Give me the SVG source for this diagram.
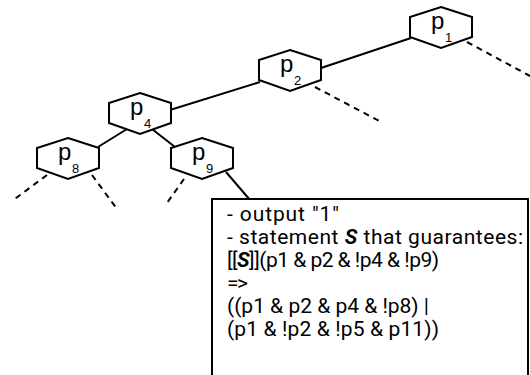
<svg xmlns="http://www.w3.org/2000/svg" width="530" height="375" viewBox="0 0 530 375">
  <defs>
    <style>
      .hex { fill: #fff; stroke: #000; stroke-width: 2; stroke-linejoin: miter; }
      .edge { stroke: #000; stroke-width: 2; fill: none; }
      .dash { stroke: #000; stroke-width: 2; fill: none; stroke-dasharray: 6 5; }
      .lbl { font-family: "Liberation Sans", Arial, sans-serif; font-size: 24px; fill: #000; }
      .sub { font-family: "Liberation Sans", Arial, sans-serif; font-size: 13px; fill: #000; }
      .note { font-family: Roboto, "Liberation Sans", sans-serif; font-size: 21px; fill: #000; }
      .box { fill: #fff; stroke: #000; stroke-width: 2; }
    </style>
    <polygon id="hexShape" points="0,0 31,10 31,30 0,41 -31,30 -31,10"/>
  </defs>

  <rect width="530" height="375" fill="#fff"/>

  <g id="connectors">
    <line class="edge" x1="411" y1="38" x2="321" y2="68"/>
    <line class="edge" x1="260" y1="82" x2="170" y2="110"/>
    <line class="edge" x1="127" y1="129" x2="98" y2="147"/>
    <line class="edge" x1="152" y1="129" x2="175" y2="147"/>
    <line class="edge" x1="226" y1="172" x2="250" y2="200"/>
    <line class="dash" x1="467" y1="42" x2="530" y2="76"/>
    <line class="dash" x1="315" y1="87" x2="383" y2="123"/>
    <line class="dash" x1="47" y1="175" x2="12" y2="201"/>
    <line class="dash" x1="92" y1="175" x2="117" y2="209"/>
    <line class="dash" x1="184" y1="179" x2="167" y2="203"/>
  </g>

  <g id="p1">
    <use href="#hexShape" class="hex" x="441" y="7"/>
    <text class="lbl" x="431" y="29">p</text>
    <text class="sub" x="445" y="42">1</text>
  </g>
  <g id="p2">
    <use href="#hexShape" class="hex" x="290" y="50"/>
    <text class="lbl" x="280" y="72">p</text>
    <text class="sub" x="294" y="85">2</text>
  </g>
  <g id="p4">
    <use href="#hexShape" class="hex" x="140" y="93"/>
    <text class="lbl" x="130" y="115">p</text>
    <text class="sub" x="144" y="128">4</text>
  </g>
  <g id="p8">
    <use href="#hexShape" class="hex" x="68" y="138"/>
    <text class="lbl" x="58" y="160">p</text>
    <text class="sub" x="72" y="173">8</text>
  </g>
  <g id="p9">
    <use href="#hexShape" class="hex" x="202" y="138"/>
    <text class="lbl" x="192" y="160">p</text>
    <text class="sub" x="206" y="173">9</text>
  </g>

  <g id="note">
    <rect class="box" x="212" y="199" width="316" height="200"/>
    <text class="note" x="227" y="221" textLength="112" lengthAdjust="spacing">- output "1"</text>
    <text class="note" x="227" y="244" textLength="296" lengthAdjust="spacing">- statement <tspan font-weight="bold" font-style="italic">S</tspan> that guarantees:</text>
    <text class="note" x="227" y="267" textLength="212" lengthAdjust="spacing">[[<tspan font-weight="bold" font-style="italic">S</tspan>]](p1 &amp; p2 &amp; !p4 &amp; !p9)</text>
    <text class="note" x="227" y="290" textLength="21" lengthAdjust="spacing">=&gt;</text>
    <text class="note" x="227" y="313" textLength="202" lengthAdjust="spacing">((p1 &amp; p2 &amp; p4 &amp; !p8) |</text>
    <text class="note" x="227" y="336" textLength="212" lengthAdjust="spacing">(p1 &amp; !p2 &amp; !p5 &amp; p11))</text>
  </g>
</svg>
